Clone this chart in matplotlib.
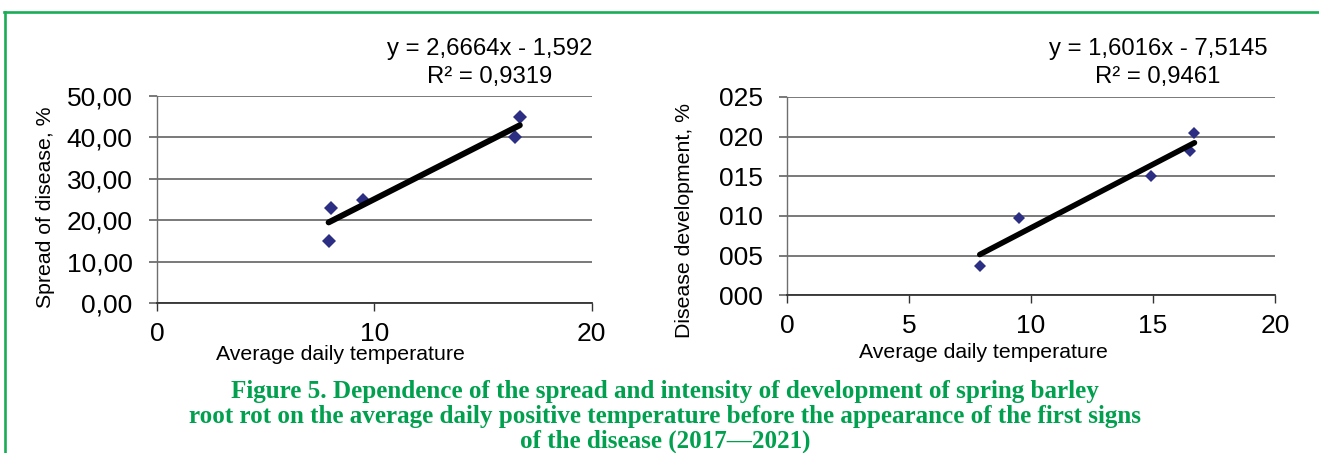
import matplotlib
matplotlib.use("Agg")
import matplotlib.pyplot as plt
from matplotlib.lines import Line2D
import numpy as np

# ---- data ----
temp_left = [7.9, 8.0, 9.5, 16.5, 16.7]
spread = [15.0, 23.0, 25.0, 40.0, 45.0]
fit_left = [2.6664, -1.592]
r2_left = "0,9319"
eq_left = "y = 2,6664x - 1,592"

temp_right = [7.9, 9.5, 14.9, 16.5, 16.7]
development = [3.7, 9.8, 15.0, 18.2, 20.5]
fit_right = [1.6016, -7.5145]
r2_right = "0,9461"
eq_right = "y = 1,6016x - 7,5145"

yticks_left = [0, 10, 20, 30, 40, 50]
yticklabels_left = ["0,00", "10,00", "20,00", "30,00", "40,00", "50,00"]
xticks_left = [0, 10, 20]

yticks_right = [0, 5, 10, 15, 20, 25]
yticklabels_right = ["000", "005", "010", "015", "020", "025"]
xticks_right = [0, 5, 10, 15, 20]

xlabel = "Average daily temperature"
ylabel_left = "Spread of disease, %"
ylabel_right = "Disease development, %"
caption = ["Figure 5. Dependence of the spread and intensity of development of spring barley",
           "root rot on the average daily positive temperature before the appearance of the first signs",
           "of the disease (2017\u20142021)"]

# ---- style ----
W, H = 1319, 453
plt.rcParams['font.family'] = ['Liberation Sans', 'DejaVu Sans']
fig = plt.figure(figsize=(W / 100, H / 100), dpi=100)
fig.patch.set_facecolor('white')

def fx(px):
    return px / W

def fy(py):
    return 1 - py / H

grid_c = '#6e6e6e'
marker_c = '#2b2e83'
green_caption = '#00a04e'
green_border = '#19ad57'


def setup(ax, xticks, yticks, yticklabels, pady):
    ax.set_xlim(0, 20)
    ax.set_ylim(yticks[0], yticks[-1])
    ax.set_xticks(xticks)
    ax.set_xticklabels([str(t) for t in xticks])
    ax.set_yticks(yticks)
    ax.set_yticklabels(yticklabels)
    ax.grid(axis='y', color=grid_c, linewidth=1.3)
    ax.grid(axis='x', visible=False)
    ax.set_axisbelow(True)
    for s in ['top', 'right']:
        ax.spines[s].set_visible(False)
    ax.spines['left'].set_color(grid_c)
    ax.spines['left'].set_linewidth(1.0)
    ax.spines['bottom'].set_color('#333333')
    ax.spines['bottom'].set_linewidth(1.3)
    ax.tick_params(axis='y', length=5.5, width=1.3, color=grid_c, pad=pady, labelsize=19)
    ax.tick_params(axis='x', length=5.5, width=1.0, color='#333333', pad=8, labelsize=19)


# left axes
axL = fig.add_axes([fx(157), fy(303), fx(591.5 - 157), (303 - 96) / H])
setup(axL, xticks_left, yticks_left, yticklabels_left, 12)
axL.plot(temp_left, spread, linestyle='none', marker='D', markersize=7.2,
         markerfacecolor=marker_c, markeredgewidth=0, zorder=3)
xl = np.array([min(temp_left), max(temp_left)])
axL.plot(xl, np.polyval(fit_left, xl), color='black', linewidth=4.3,
         solid_capstyle='round', zorder=4)

# right axes
axR = fig.add_axes([fx(787), fy(295.3), fx(1275 - 787), (295.3 - 97) / H])
setup(axR, xticks_right, yticks_right, yticklabels_right, 12)
axR.plot(temp_right, development, linestyle='none', marker='D', markersize=5.8,
         markerfacecolor=marker_c, markeredgewidth=0, zorder=3)
xr = np.array([min(temp_right), max(temp_right)])
axR.plot(xr, np.polyval(fit_right, xr), color='black', linewidth=4.0,
         solid_capstyle='round', zorder=4)

# axis labels
fig.text(fx(340), fy(355), xlabel, ha='center', va='center', fontsize=15.3)
fig.text(fx(983), fy(352), xlabel, ha='center', va='center', fontsize=15.3)
fig.text(fx(46), fy(207), ylabel_left, ha='center', va='center', rotation=90, fontsize=15.3)
fig.text(fx(685), fy(220), ylabel_right, ha='center', va='center', rotation=90, fontsize=15.3)

# equations
fig.text(fx(490), fy(55), eq_left, ha='center', va='baseline', fontsize=17.2)
fig.text(fx(490), fy(83), "R\u00b2 = " + r2_left, ha='center', va='baseline', fontsize=17.2)
fig.text(fx(1158), fy(55), eq_right, ha='center', va='baseline', fontsize=17.2)
fig.text(fx(1158), fy(83), "R\u00b2 = " + r2_right, ha='center', va='baseline', fontsize=17.2)

# caption
for i, line in enumerate(caption):
    fig.text(fx(665), fy(398 + 25 * i), line, ha='center', va='baseline',
             fontsize=18.1, fontweight='bold', family=['Liberation Serif', 'DejaVu Serif'],
             color=green_caption)

# border
fig.add_artist(Line2D([fx(3.5), 1.0], [fy(12), fy(12)], color=green_border, linewidth=1.9,
                      transform=fig.transFigure))
fig.add_artist(Line2D([fx(4.5), fx(4.5)], [0, fy(12)], color=green_border, linewidth=1.9,
                      transform=fig.transFigure, solid_capstyle='projecting'))

fig.savefig('out.png', dpi=100)
